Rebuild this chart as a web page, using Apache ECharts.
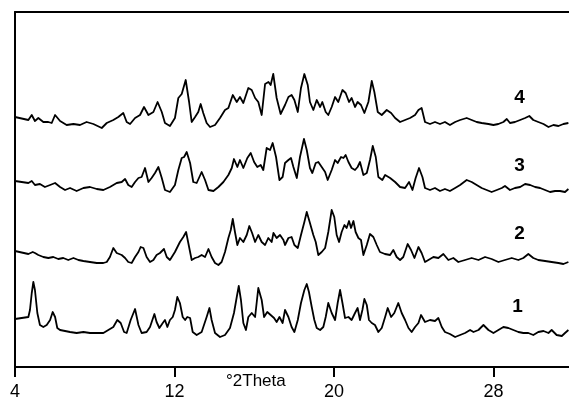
<!DOCTYPE html>
<html><head><meta charset="utf-8">
<script src="https://cdn.jsdelivr.net/npm/echarts@6/dist/echarts.min.js"></script>
<style>html,body{margin:0;padding:0;background:#fff}#c{width:569px;height:402px}</style>
</head><body><div id="c"></div>
<script>
// x: degrees 2-theta, y: stacked intensity (arbitrary units, offset patterns)
const xTickValues = [4, 12, 20, 28];
const xAxisTitle = '°2Theta';
const patternNames = ['1', '2', '3', '4'];
const patternLabelPos = [[29.2, 60], [29.3, 133], [29.3, 201], [29.3, 269]];

const pattern1 = [[4.00,48],[4.67,50],[4.75,57],[4.84,74],[4.92,85],[5.00,77],[5.12,54],[5.25,42],[5.42,40],[5.59,42],[5.76,47],[5.89,55],[6.01,50],[6.12,39],[6.26,37],[6.51,36],[6.76,35],[7.09,34],[7.43,35],[7.76,34],[8.10,34],[8.43,34],[8.68,37],[8.93,40],[9.13,47],[9.30,44],[9.47,35],[9.60,34],[9.80,47],[10.02,58],[10.19,42],[10.35,34],[10.60,35],[10.77,40],[10.99,53],[11.10,45],[11.24,39],[11.41,44],[11.52,47],[11.64,40],[11.77,47],[11.91,50],[12.02,57],[12.14,70],[12.27,64],[12.41,50],[12.53,47],[12.64,50],[12.78,49],[12.91,35],[13.11,32],[13.36,35],[13.61,50],[13.75,59],[13.86,47],[14.03,34],[14.28,30],[14.53,32],[14.78,39],[14.98,54],[15.12,70],[15.22,81],[15.33,67],[15.45,44],[15.58,37],[15.70,50],[15.87,54],[16.04,50],[16.20,79],[16.37,67],[16.49,50],[16.65,55],[16.82,52],[16.99,49],[17.12,45],[17.26,50],[17.42,44],
[17.54,57],[17.71,50],[17.87,40],[18.01,35],[18.18,47],[18.34,64],[18.51,77],[18.63,83],[18.74,75],[18.88,60],[19.01,47],[19.13,39],[19.30,37],[19.46,40],[19.58,50],[19.71,64],[19.88,54],[20.05,47],[20.18,64],[20.30,77],[20.42,64],[20.55,49],[20.72,50],[20.88,47],[21.05,54],[21.18,59],[21.30,47],[21.42,57],[21.52,68],[21.64,62],[21.75,47],[21.89,44],[22.05,42],[22.22,35],[22.39,39],[22.56,50],[22.69,59],[22.86,50],[23.02,54],[23.22,64],[23.39,54],[23.56,47],[23.73,39],[23.89,35],[24.06,40],[24.23,44],[24.36,52],[24.56,45],[24.81,47],[25.06,46],[25.23,49],[25.40,40],[25.56,35],[25.81,33],[26.07,30],[26.32,32],[26.57,34],[26.82,37],[26.99,35],[27.24,37],[27.49,42],[27.74,37],[27.99,34],[28.24,37],[28.49,40],[28.74,39],[28.99,37],[29.24,35],[29.49,34],[29.74,34],[29.99,32],[30.24,35],[30.50,36],[30.75,34],[30.91,37],[31.16,32],[31.42,31],[31.58,34],[31.75,37]];

const pattern2 = [[4.00,116],[4.67,113],[4.89,115],[5.00,114],[5.17,112],[5.42,110],[5.67,109],[5.92,110],[6.17,108],[6.42,109],[6.67,107],[6.93,109],[7.18,107],[7.43,106],[7.76,105],[8.10,104],[8.43,104],[8.60,105],[8.76,110],[8.93,119],[9.10,114],[9.35,112],[9.52,109],[9.68,105],[9.85,104],[10.02,110],[10.19,115],[10.30,120],[10.44,119],[10.60,110],[10.77,105],[10.94,107],[11.10,112],[11.27,114],[11.47,118],[11.61,110],[11.77,107],[12.02,115],[12.27,125],[12.44,130],[12.58,135],[12.74,119],[12.86,107],[13.03,109],[13.19,110],[13.36,112],[13.53,110],[13.70,118],[13.86,110],[14.03,104],[14.20,102],[14.36,105],[14.53,115],[14.70,129],[14.82,137],[14.92,148],[15.03,135],[15.15,122],[15.28,129],[15.45,125],[15.62,132],[15.75,141],[15.89,134],[16.04,125],[16.20,132],[16.37,125],[16.54,122],[16.70,129],[16.87,125],[16.96,134],[17.12,129],[17.29,132],[17.46,127],
[17.54,122],[17.71,129],[17.87,130],[18.01,122],[18.18,119],[18.34,132],[18.51,145],[18.63,155],[18.79,144],[18.96,132],[19.08,125],[19.21,112],[19.38,115],[19.55,119],[19.71,135],[19.88,157],[20.01,150],[20.13,132],[20.25,125],[20.38,135],[20.52,142],[20.63,139],[20.75,146],[20.85,139],[20.97,146],[21.08,135],[21.22,129],[21.35,127],[21.47,112],[21.64,122],[21.80,133],[21.97,130],[22.14,122],[22.30,115],[22.55,113],[22.81,112],[22.97,117],[23.14,110],[23.31,107],[23.47,110],[23.69,123],[23.86,117],[24.03,109],[24.23,120],[24.39,114],[24.56,105],[24.73,107],[24.98,110],[25.23,109],[25.48,113],[25.73,107],[25.98,109],[26.23,105],[26.57,107],[26.90,109],[27.24,107],[27.57,110],[27.90,108],[28.24,105],[28.57,107],[28.91,109],[29.24,107],[29.49,109],[29.74,113],[29.99,109],[30.24,107],[30.58,106],[30.91,105],[31.25,104],[31.50,103],[31.75,105]];

const pattern3 = [[4.00,186],[4.67,184],[4.84,186],[5.00,182],[5.25,183],[5.50,180],[5.76,182],[6.01,184],[6.26,180],[6.51,177],[6.76,179],[7.09,176],[7.43,179],[7.76,180],[8.10,178],[8.43,177],[8.76,180],[9.10,184],[9.35,185],[9.52,188],[9.68,182],[9.85,180],[10.02,185],[10.19,189],[10.35,190],[10.52,199],[10.69,185],[10.85,189],[11.02,194],[11.19,200],[11.36,189],[11.52,177],[11.77,175],[12.02,182],[12.19,197],[12.36,209],[12.48,210],[12.61,215],[12.78,204],[12.94,185],[13.11,184],[13.36,195],[13.53,187],[13.70,177],[13.95,176],[14.20,180],[14.45,185],[14.70,192],[14.87,199],[14.98,208],[15.15,200],[15.28,207],[15.45,199],[15.65,209],[15.82,214],[15.99,205],[16.15,200],[16.32,202],[16.45,197],[16.62,219],[16.79,217],[16.92,224],[17.09,210],[17.26,187],[17.42,190],
[17.54,204],[17.71,207],[17.84,209],[17.96,200],[18.13,189],[18.29,210],[18.49,228],[18.63,217],[18.79,199],[18.91,194],[19.08,204],[19.21,205],[19.38,200],[19.55,195],[19.68,187],[19.88,197],[20.05,207],[20.18,204],[20.35,210],[20.47,209],[20.58,212],[20.72,205],[20.88,199],[21.05,197],[21.18,200],[21.30,205],[21.47,192],[21.64,194],[21.80,207],[21.94,221],[22.09,210],[22.22,190],[22.42,187],[22.56,192],[22.81,189],[23.06,185],[23.31,180],[23.56,179],[23.76,185],[23.93,177],[24.09,189],[24.26,199],[24.43,190],[24.56,179],[24.81,177],[25.06,179],[25.31,176],[25.56,178],[25.81,176],[26.07,179],[26.32,182],[26.65,187],[26.90,185],[27.15,182],[27.40,179],[27.65,177],[27.90,175],[28.16,177],[28.41,179],[28.57,181],[28.82,177],[29.07,179],[29.33,180],[29.58,183],[29.83,182],[30.08,180],[30.33,179],[30.58,177],[30.83,175],[31.08,176],[31.33,176],[31.58,175],[31.75,178]];

const pattern4 = [[4.00,250],[4.67,247],[4.84,252],[5.00,246],[5.17,249],[5.42,245],[5.67,245],[5.84,244],[6.01,252],[6.26,246],[6.59,242],[6.93,243],[7.26,242],[7.59,245],[7.93,243],[8.35,239],[8.60,244],[8.93,247],[9.18,250],[9.43,254],[9.60,245],[9.77,243],[10.02,249],[10.27,252],[10.47,260],[10.69,252],[10.94,255],[11.15,265],[11.36,255],[11.52,244],[11.77,241],[12.02,249],[12.19,269],[12.36,273],[12.56,287],[12.73,265],[12.86,245],[13.03,250],[13.19,255],[13.31,263],[13.44,254],[13.61,244],[13.78,240],[14.03,242],[14.28,249],[14.53,257],[14.70,259],[14.92,272],[15.12,265],[15.28,270],[15.45,264],[15.70,279],[15.87,277],[16.04,269],[16.20,265],[16.37,252],[16.54,283],[16.71,285],[16.82,282],[16.95,293],[17.12,269],[17.32,253],
[17.54,262],[17.71,270],[17.87,272],[18.01,267],[18.18,255],[18.34,279],[18.51,293],[18.68,282],[18.79,265],[18.96,257],[19.13,267],[19.30,260],[19.41,265],[19.58,255],[19.71,252],[19.88,260],[20.05,270],[20.21,265],[20.42,277],[20.58,274],[20.75,265],[20.88,269],[21.05,260],[21.18,265],[21.35,262],[21.52,254],[21.72,265],[21.89,286],[22.02,275],[22.19,255],[22.39,252],[22.64,257],[22.86,254],[23.06,249],[23.31,245],[23.56,247],[23.81,249],[24.06,252],[24.23,257],[24.39,259],[24.56,245],[24.81,243],[25.06,245],[25.31,243],[25.56,245],[25.81,242],[26.07,245],[26.32,247],[26.65,249],[26.90,247],[27.15,245],[27.40,244],[27.74,243],[27.99,242],[28.24,243],[28.49,245],[28.66,248],[28.82,244],[29.07,245],[29.33,247],[29.58,249],[29.79,251],[29.99,247],[30.24,245],[30.50,243],[30.75,240],[31.00,242],[31.25,241],[31.50,243],[31.75,244]];

const patterns = [pattern1, pattern2, pattern3, pattern4];

const chart = echarts.init(document.getElementById('c'), null, {renderer: 'canvas'});
const FONT = 'Liberation Sans, Arial, Helvetica, sans-serif';
const series = patterns.map((d, i) => ({
  name: 'Pattern ' + patternNames[i],
  type: 'line',
  data: d,
  showSymbol: false,
  symbol: 'none',
  silent: true,
  animation: false,
  lineStyle: {color: '#000', width: 1.8, join: 'round'}
}));
series.push({
  type: 'scatter',
  animation: false,
  silent: true,
  symbolSize: 0,
  itemStyle: {opacity: 1},
  data: patternLabelPos.map((p, i) => [p[0], p[1], patternNames[i]]),
  label: {show: true, position: 'inside', formatter: p => p.data[2],
    color: '#000', fontFamily: FONT, fontWeight: 'bold', fontSize: 19}
});
chart.setOption({
  backgroundColor: '#fff',
  animation: false,
  grid: {left: 15, right: 0, top: 12, bottom: 35, containLabel: false},
  xAxis: [{
    type: 'value', min: xTickValues[0], max: 31.78, interval: 8, position: 'bottom',
    axisLine: {show: true, lineStyle: {color: '#000', width: 2}},
    axisTick: {show: true, length: 10, lineStyle: {color: '#000', width: 2}},
    axisLabel: {show: true, margin: 16, color: '#000', fontFamily: FONT, fontSize: 18,
      showMaxLabel: false,
      formatter: v => xTickValues.includes(v) ? String(v) : ''},
    splitLine: {show: false}
  }, {
    type: 'value', min: xTickValues[0], max: 31.78, position: 'top',
    axisLine: {show: true, lineStyle: {color: '#000', width: 2}},
    axisTick: {show: false}, axisLabel: {show: false}, splitLine: {show: false}
  }],
  yAxis: {
    type: 'value', min: 0, max: 355,
    axisLine: {show: true, lineStyle: {color: '#000', width: 2}},
    axisTick: {show: false}, axisLabel: {show: false}, splitLine: {show: false}
  },
  graphic: [{
    type: 'text', left: 226, top: 373,
    style: {text: xAxisTitle, fill: '#000', font: '17px ' + FONT}
  }],
  series: series
});
</script>
</body></html>
